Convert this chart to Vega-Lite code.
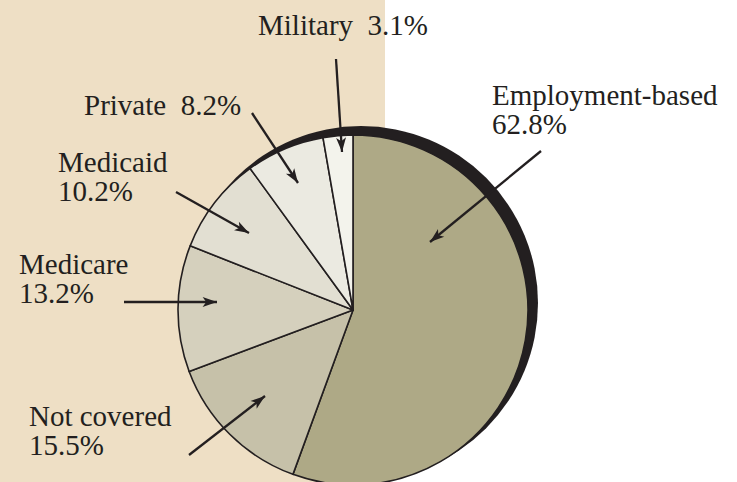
{
  "$schema": "https://vega.github.io/schema/vega-lite/v6.json",
  "width": 737,
  "height": 482,
  "padding": 0,
  "autosize": {"type": "none"},
  "background": "white",
  "config": {"view": {"stroke": null}},
  "datasets": {
    "coverage": [
      {"type": "Employment-based", "pct": 62.8, "rank": 1},
      {"type": "Not covered", "pct": 15.5, "rank": 2},
      {"type": "Medicare", "pct": 13.2, "rank": 3},
      {"type": "Medicaid", "pct": 10.2, "rank": 4},
      {"type": "Private", "pct": 8.2, "rank": 5},
      {"type": "Military", "pct": 3.1, "rank": 6}
    ],
    "arrows": [
      {"type": "Military", "x": 336, "y": 59, "x2": 342, "y2": 152},
      {"type": "Private", "x": 252, "y": 113, "x2": 298, "y2": 183},
      {"type": "Medicaid", "x": 176, "y": 192, "x2": 249, "y2": 233},
      {"type": "Medicare", "x": 124, "y": 302, "x2": 217, "y2": 302},
      {"type": "Not covered", "x": 189, "y": 455, "x2": 265, "y2": 396},
      {"type": "Employment-based", "x": 541, "y": 151, "x2": 430, "y2": 242}
    ],
    "labels": [
      {"label": "Military\u00a0\u00a03.1%", "x": 258, "y": 35},
      {"label": "Private\u00a0\u00a08.2%", "x": 84, "y": 115},
      {"label": "Medicaid\n10.2%", "x": 58, "y": 172},
      {"label": "Medicare\n13.2%", "x": 19, "y": 274},
      {"label": "Not covered\n15.5%", "x": 29, "y": 426},
      {"label": "Employment-based\n62.8%", "x": 492, "y": 105}
    ]
  },
  "layer": [
    {
      "data": {"values": [{"x": 0, "x2": 385, "y": 0, "y2": 482}]},
      "mark": {"type": "rect", "color": "#eedfc5"},
      "encoding": {
        "x": {"field": "x", "type": "quantitative", "scale": {"domain": [0, 737], "nice": false, "zero": false}, "axis": null},
        "x2": {"field": "x2"},
        "y": {"field": "y", "type": "quantitative", "scale": {"domain": [0, 482], "nice": false, "zero": false, "reverse": true}, "axis": null},
        "y2": {"field": "y2"}
      }
    },
    {
      "data": {"values": [{"cx": 361, "cy": 303}]},
      "mark": {"type": "arc", "theta": 0, "theta2": 6.2832, "radius": 177, "color": "#231f20"},
      "encoding": {
        "x": {"field": "cx", "type": "quantitative"},
        "y": {"field": "cy", "type": "quantitative"}
      }
    },
    {
      "data": {"name": "coverage"},
      "transform": [{"calculate": "353", "as": "cx"}, {"calculate": "310", "as": "cy"}],
      "mark": {"type": "arc", "radius": 175, "stroke": "#231f20", "strokeWidth": 1.6, "strokeJoin": "round"},
      "encoding": {
        "theta": {"field": "pct", "type": "quantitative", "stack": true},
        "order": {"field": "rank", "type": "quantitative"},
        "color": {
          "field": "type", "type": "nominal", "legend": null,
          "scale": {
            "domain": ["Employment-based", "Not covered", "Medicare", "Medicaid", "Private", "Military"],
            "range": ["#aea986", "#c6c1a9", "#d5d0bd", "#e2dfd2", "#ebeae1", "#f3f3ec"]
          }
        },
        "x": {"field": "cx", "type": "quantitative"},
        "y": {"field": "cy", "type": "quantitative"}
      }
    },
    {
      "data": {"name": "arrows"},
      "mark": {"type": "rule", "color": "#231f20", "strokeWidth": 2.3},
      "encoding": {
        "x": {"field": "x", "type": "quantitative"},
        "y": {"field": "y", "type": "quantitative"},
        "x2": {"field": "x2"},
        "y2": {"field": "y2"}
      }
    },
    {
      "data": {"name": "arrows"},
      "transform": [{"calculate": "atan2(datum.x2 - datum.x, -(datum.y2 - datum.y)) * 180 / PI", "as": "ang"}],
      "mark": {"type": "point", "filled": true, "opacity": 1, "color": "#231f20", "size": 324, "shape": "M0,0 L0.55,1.6 L0,1.2 L-0.55,1.6 Z"},
      "encoding": {
        "x": {"field": "x2", "type": "quantitative"},
        "y": {"field": "y2", "type": "quantitative"},
        "angle": {"field": "ang", "type": "quantitative", "scale": null}
      }
    },
    {
      "data": {"name": "labels"},
      "mark": {"type": "text", "align": "left", "baseline": "alphabetic", "font": "Liberation Serif", "fontSize": 29, "color": "#231f20", "lineBreak": "\n", "lineHeight": 29},
      "encoding": {
        "x": {"field": "x", "type": "quantitative"},
        "y": {"field": "y", "type": "quantitative"},
        "text": {"field": "label"}
      }
    }
  ]
}
